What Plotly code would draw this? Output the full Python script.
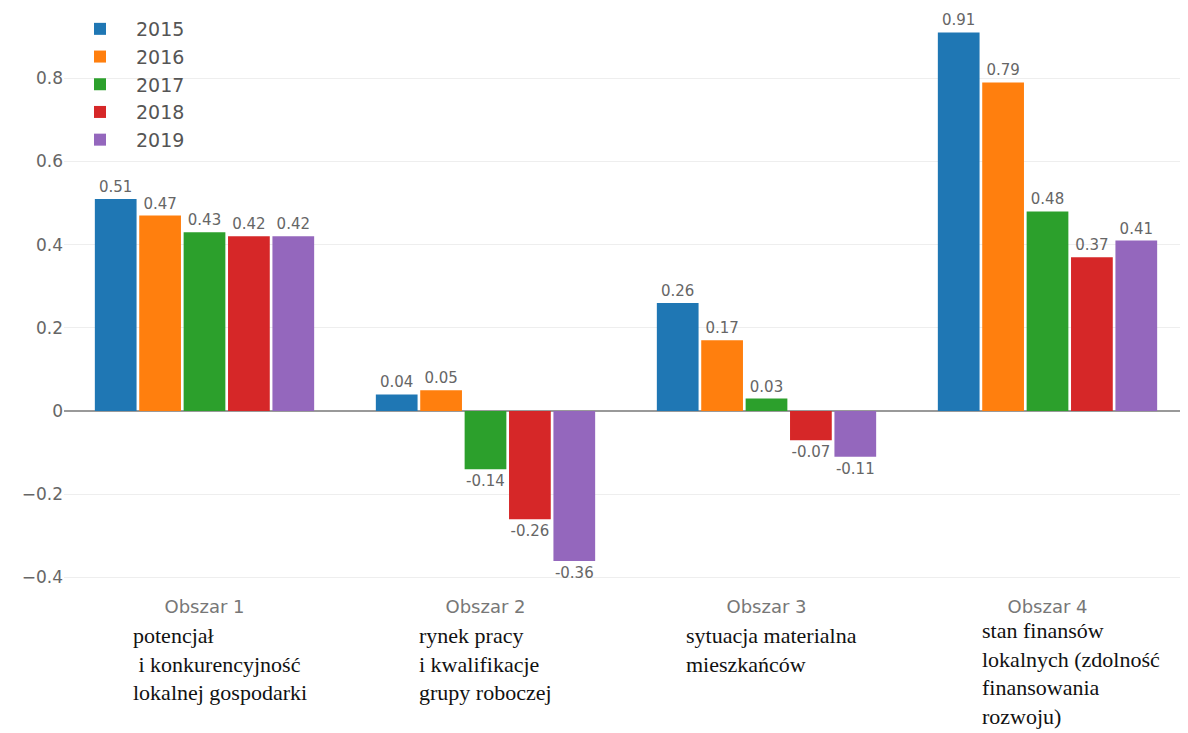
import plotly.graph_objects as go

# ── Data ─────────────────────────────────────────────────────────────────────
categories = ["Obszar 1", "Obszar 2", "Obszar 3", "Obszar 4"]
years = ["2015", "2016", "2017", "2018", "2019"]
values = {
    "2015": [0.51, 0.04, 0.26, 0.91],
    "2016": [0.47, 0.05, 0.17, 0.79],
    "2017": [0.43, -0.14, 0.03, 0.48],
    "2018": [0.42, -0.26, -0.07, 0.37],
    "2019": [0.42, -0.36, -0.11, 0.41],
}
descriptions = [
    "potencjał<br> i konkurencyjność<br>lokalnej gospodarki",
    "rynek pracy<br>i kwalifikacje<br>grupy roboczej",
    "sytuacja materialna<br>mieszkańców",
    "stan finansów<br>lokalnych (zdolność<br>finansowania<br>rozwoju)",
]
tick_vals = [-0.4, -0.2, 0, 0.2, 0.4, 0.6, 0.8]

COLOURS = ["#1f77b4", "#ff7f0e", "#2ca02c", "#d62728", "#9467bd"]
LABEL_FONT = "DejaVu Sans, Verdana, sans-serif"

# ── Bars ─────────────────────────────────────────────────────────────────────
fig = go.Figure()
for year, colour in zip(years, COLOURS):
    fig.add_trace(go.Bar(
        name=year,
        x=categories,
        y=values[year],
        marker=dict(color=colour, line=dict(color="white", width=0)),
        text=[f"{v:.2f}" for v in values[year]],
        textposition="outside",
        textfont=dict(size=15, color="#666666", family=LABEL_FONT),
        cliponaxis=False,
    ))

# ── Category descriptions (serif text under the ticks) ───────────────────────
x_shifts = [-74, -69, -83, -68]
y_pos = [-0.054, -0.054, -0.054, -0.045]
annotations = []
for cat, desc, xs, yp in zip(categories, descriptions, x_shifts, y_pos):
    annotations.append(dict(
        x=cat, xref="x",
        y=yp, yref="paper",
        xanchor="left", yanchor="top",
        xshift=xs,
        text=desc,
        showarrow=False,
        align="left",
        font=dict(family="Liberation Serif, Times New Roman, serif", size=22, color="#111111"),
    ))

# ── Layout ───────────────────────────────────────────────────────────────────
fig.update_layout(
    width=1180,
    height=725,
    paper_bgcolor="white",
    plot_bgcolor="white",
    barmode="group",
    bargap=0.21,
    bargroupgap=0.06,
    margin=dict(l=56, r=0, t=2, b=143),
    font=dict(family=LABEL_FONT, color="#444444"),
    legend=dict(
        x=0.0, y=1.0, xanchor="left", yanchor="top",
        font=dict(size=19, color="#555555"),
        bgcolor="rgba(255,255,255,0)",
        itemwidth=62,
        tracegroupgap=0,
    ),
    xaxis=dict(
        showgrid=False,
        tickfont=dict(size=18, color="#777777"),
        ticks="",
        ticklabelstandoff=4,
    ),
    yaxis=dict(
        range=[-0.43, 0.964],
        tickvals=tick_vals,
        showgrid=True,
        gridcolor="#eeeeee",
        zeroline=True,
        zerolinecolor="#999999",
        zerolinewidth=1.5,
        tickfont=dict(size=17, color="#666666"),
    ),
    annotations=annotations,
)

fig.write_html("out.html")
